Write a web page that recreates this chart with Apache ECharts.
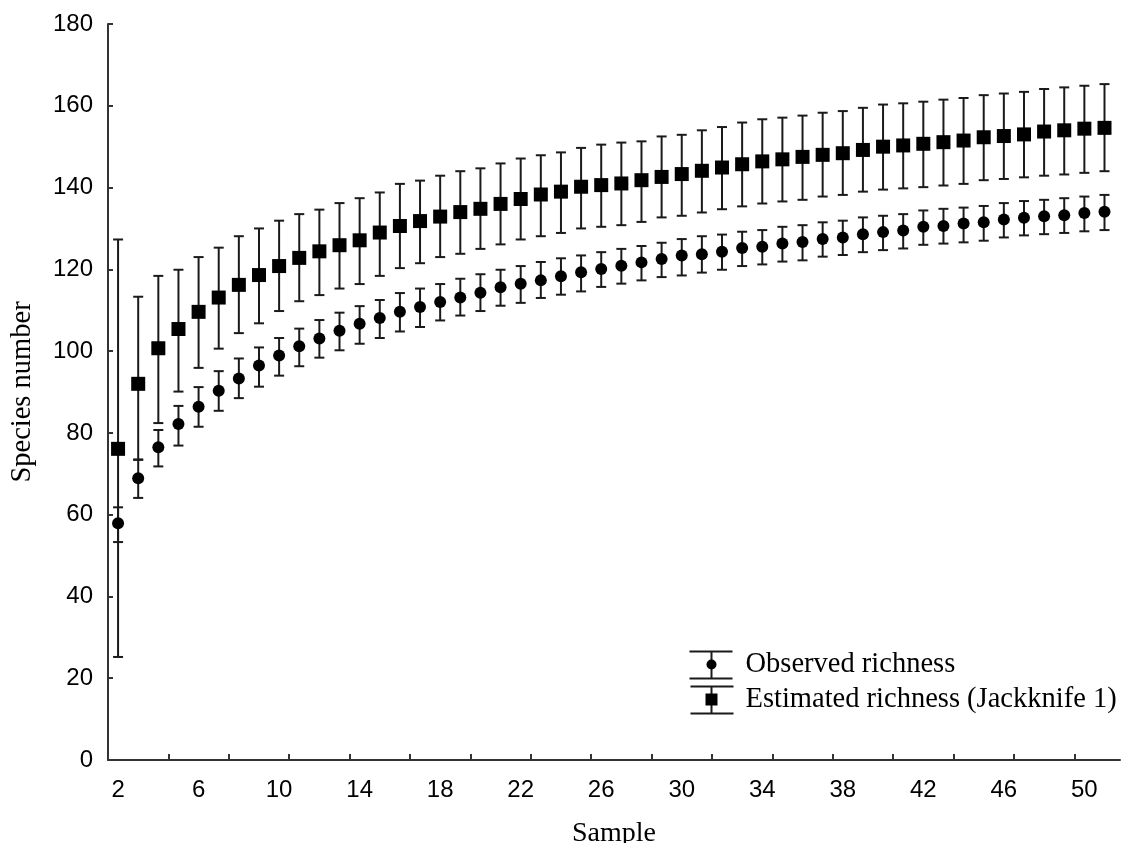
<!DOCTYPE html>
<html><head><meta charset="utf-8">
<script src="https://cdn.jsdelivr.net/npm/echarts@6/dist/echarts.min.js"></script>
<style>html,body{margin:0;padding:0;background:#fff}#c{width:1125px;height:843px}</style>
</head><body><div id="c"></div>
<script>
const samples = [2,3,4,5,6,7,8,9,10,11,12,13,14,15,16,17,18,19,20,21,22,23,24,25,26,27,28,29,30,31,32,33,34,35,36,37,38,39,40,41,42,43,44,45,46,47,48,49,50,51];

const obsMean = [57.9,68.9,76.5,82.2,86.4,90.3,93.3,96.5,98.9,101.2,103.1,105.0,106.7,108.1,109.6,110.8,112.0,113.1,114.3,115.6,116.5,117.3,118.3,119.3,120.1,120.9,121.7,122.5,123.4,123.7,124.3,125.2,125.5,126.3,126.7,127.4,127.8,128.6,129.1,129.5,130.4,130.6,131.2,131.5,132.2,132.6,133.0,133.2,133.8,134.1];
const obsLow = [53.3,64.1,71.8,76.9,81.5,85.4,88.5,91.3,94.0,96.3,98.4,100.2,101.8,103.2,104.8,105.9,107.5,108.7,109.8,111.1,111.8,113.0,113.8,114.6,115.7,116.5,117.3,118.1,118.5,119.2,119.9,120.8,121.2,121.9,122.2,123.1,123.5,124.2,124.7,125.1,126.0,126.3,126.6,127.0,127.8,128.3,128.6,128.9,129.3,129.6];
const obsHigh = [61.8,73.4,80.7,86.6,91.2,95.1,98.2,100.9,103.2,105.5,107.6,109.4,111.0,112.5,114.2,115.3,116.4,117.7,118.8,119.9,120.8,121.8,122.7,123.4,124.2,125.0,125.7,126.5,127.4,128.1,128.5,129.2,129.6,130.4,130.8,131.5,131.9,132.7,133.1,133.5,134.4,134.8,135.1,135.5,136.2,136.7,137.0,137.4,137.8,138.2];

const estMean = [76.1,92.0,100.7,105.4,109.6,113.1,116.2,118.6,120.8,122.8,124.4,125.9,127.1,129.0,130.6,131.8,132.9,134.0,134.8,136.0,137.2,138.3,139.0,140.2,140.6,141.0,141.8,142.6,143.3,144.1,144.9,145.7,146.4,146.9,147.5,148.0,148.4,149.2,150.0,150.3,150.7,151.1,151.5,152.3,152.6,153.0,153.7,154.0,154.4,154.6];
const estLow = [25.2,73.5,82.4,90.1,95.9,100.6,104.4,106.8,109.8,112.2,113.7,115.3,116.4,118.4,120.3,121.5,123.0,123.8,125.0,126.1,127.3,128.1,128.9,130.0,130.4,130.8,131.6,132.7,133.1,133.9,134.7,135.4,136.1,136.6,137.0,137.8,138.2,139.0,139.5,139.8,140.1,140.5,140.9,141.8,142.1,142.5,142.9,143.2,143.6,144.0];
const estHigh = [127.3,113.3,118.4,119.9,123.0,125.3,128.1,130.0,131.9,133.5,134.6,136.2,137.4,138.8,140.9,141.7,142.9,144.0,144.7,145.9,147.1,147.9,148.6,149.7,150.5,151.0,151.3,152.5,152.9,154.0,154.8,155.9,156.7,157.1,157.6,158.3,158.7,159.5,160.3,160.6,161.0,161.5,161.9,162.6,163.0,163.4,164.1,164.5,164.9,165.3];

const xTickLabels = [2,6,10,14,18,22,26,30,34,38,42,46,50];
const xTickMarks = [4.5,7.5,10.5,13.5,16.5,19.5,22.5,25.5,28.5,31.5,34.5,37.5,40.5,43.5,46.5,49.5];
const yTicks = [0,20,40,60,80,100,120,140,160,180];

const obsName = 'Observed richness';
const estName = 'Estimated richness (Jackknife 1)';
const ink = '#1a1a1a';
const sansFont = '"Liberation Sans", Arial, sans-serif';
const serifFont = '"Liberation Serif", "Times New Roman", serif';

function errorBars(name, low, high) {
  return {
    type: 'custom', name: name,
    data: samples.map((s, i) => [s, low[i], high[i]]),
    encode: {x: 0, y: [1, 2]},
    z: 2,
    renderItem: function (params, api) {
      const x = api.value(0);
      const lo = api.coord([x, api.value(1)]);
      const hi = api.coord([x, api.value(2)]);
      const hw = 5;
      const st = {stroke: ink, lineWidth: 2, fill: null};
      return {type: 'group', children: [
        {type: 'line', shape: {x1: lo[0], y1: lo[1], x2: hi[0], y2: hi[1]}, style: st},
        {type: 'line', shape: {x1: hi[0] - hw, y1: hi[1], x2: hi[0] + hw, y2: hi[1]}, style: st},
        {type: 'line', shape: {x1: lo[0] - hw, y1: lo[1], x2: lo[0] + hw, y2: lo[1]}, style: st}
      ]};
    }
  };
}

const chart = echarts.init(document.getElementById('c'));
chart.setOption({
  animation: false,
  backgroundColor: '#fff',
  grid: {left: 108, right: 5, top: 24, bottom: 83, containLabel: false, outerBoundsMode: 'none'},
  xAxis: {
    type: 'value', min: 1.5, max: 51.77,
    name: 'Sample', nameLocation: 'middle', nameGap: 60,
    nameTextStyle: {fontFamily: serifFont, fontSize: 28, color: '#000'},
    axisLine: {show: true, onZero: false, lineStyle: {color: '#333', width: 2}},
    axisTick: {show: true, inside: true, length: 6, customValues: xTickMarks, lineStyle: {color: '#333', width: 2}},
    axisLabel: {customValues: xTickLabels, fontFamily: sansFont, fontSize: 24, color: '#000', margin: 18},
    splitLine: {show: false}
  },
  yAxis: {
    type: 'value', min: 0, max: 180, interval: 20,
    name: 'Species number', nameLocation: 'middle', nameGap: 71, nameRotate: 90,
    nameTextStyle: {fontFamily: serifFont, fontSize: 28.5, color: '#000'},
    axisLine: {show: true, lineStyle: {color: '#333', width: 2}},
    axisTick: {show: true, inside: true, length: 5, customValues: yTicks, lineStyle: {color: '#333', width: 2}},
    axisLabel: {fontFamily: sansFont, fontSize: 24, color: '#000', margin: 15},
    splitLine: {show: false}
  },
  series: [
    errorBars(estName + ' error', estLow, estHigh),
    errorBars(obsName + ' error', obsLow, obsHigh),
    {type: 'scatter', name: estName, data: samples.map((s, i) => [s, estMean[i]]),
     symbol: 'rect', symbolSize: 14, itemStyle: {color: '#000', opacity: 1}, z: 3},
    {type: 'scatter', name: obsName, data: samples.map((s, i) => [s, obsMean[i]]),
     symbol: 'circle', symbolSize: 12, itemStyle: {color: '#000', opacity: 1}, z: 3}
  ],
  graphic: [
    {type: 'group', left: 687, top: 649, children: [
      {type: 'line', shape: {x1: 0, y1: 1, x2: 43, y2: 1}, style: {stroke: ink, lineWidth: 2}},
      {type: 'line', shape: {x1: 22, y1: 1, x2: 22, y2: 28}, style: {stroke: ink, lineWidth: 2}},
      {type: 'line', shape: {x1: 0, y1: 28, x2: 43, y2: 28}, style: {stroke: ink, lineWidth: 2}},
      {type: 'circle', shape: {cx: 22, cy: 14, r: 5}, style: {fill: '#000'}},
      {type: 'line', shape: {x1: 1, y1: 36, x2: 44, y2: 36}, style: {stroke: ink, lineWidth: 2}},
      {type: 'line', shape: {x1: 22, y1: 36, x2: 22, y2: 63}, style: {stroke: ink, lineWidth: 2}},
      {type: 'line', shape: {x1: 1, y1: 63, x2: 44, y2: 63}, style: {stroke: ink, lineWidth: 2}},
      {type: 'rect', shape: {x: 16, y: 43, width: 12, height: 12}, style: {fill: '#000'}},
      {type: 'text', x: 56, y: 14, style: {text: obsName, font: '28.5px ' + serifFont, fill: '#000', verticalAlign: 'middle'}},
      {type: 'text', x: 56, y: 49, style: {text: estName, font: '28.5px ' + serifFont, fill: '#000', verticalAlign: 'middle'}}
    ]}
  ]
});
</script>
</body></html>
